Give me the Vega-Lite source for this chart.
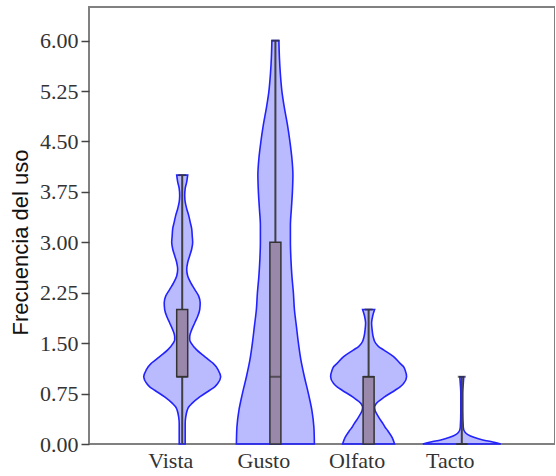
{
  "$schema": "https://vega.github.io/schema/vega-lite/v6.json",
  "width": 466,
  "height": 437,
  "autosize": {"type": "none"},
  "padding": {"left": 89, "top": 7, "right": 0, "bottom": 32},
  "config": {
    "view": {"stroke": "#808080", "strokeWidth": 2},
    "font": "Liberation Serif"
  },
  "datasets": {
    "violin": [
      {"sense": "Vista", "value": 0, "density": 0.064},
      {"sense": "Vista", "value": 0.1, "density": 0.064},
      {"sense": "Vista", "value": 0.2, "density": 0.064},
      {"sense": "Vista", "value": 0.3, "density": 0.064},
      {"sense": "Vista", "value": 0.4, "density": 0.075},
      {"sense": "Vista", "value": 0.5, "density": 0.107},
      {"sense": "Vista", "value": 0.55, "density": 0.139},
      {"sense": "Vista", "value": 0.6, "density": 0.204},
      {"sense": "Vista", "value": 0.7, "density": 0.376},
      {"sense": "Vista", "value": 0.8, "density": 0.59},
      {"sense": "Vista", "value": 0.85, "density": 0.697},
      {"sense": "Vista", "value": 0.9, "density": 0.762},
      {"sense": "Vista", "value": 1.0, "density": 0.826},
      {"sense": "Vista", "value": 1.1, "density": 0.773},
      {"sense": "Vista", "value": 1.2, "density": 0.665},
      {"sense": "Vista", "value": 1.25, "density": 0.569},
      {"sense": "Vista", "value": 1.3, "density": 0.483},
      {"sense": "Vista", "value": 1.4, "density": 0.311},
      {"sense": "Vista", "value": 1.5, "density": 0.193},
      {"sense": "Vista", "value": 1.55, "density": 0.161},
      {"sense": "Vista", "value": 1.6, "density": 0.161},
      {"sense": "Vista", "value": 1.7, "density": 0.204},
      {"sense": "Vista", "value": 1.8, "density": 0.268},
      {"sense": "Vista", "value": 1.9, "density": 0.333},
      {"sense": "Vista", "value": 2.0, "density": 0.376},
      {"sense": "Vista", "value": 2.1, "density": 0.386},
      {"sense": "Vista", "value": 2.2, "density": 0.354},
      {"sense": "Vista", "value": 2.3, "density": 0.268},
      {"sense": "Vista", "value": 2.4, "density": 0.182},
      {"sense": "Vista", "value": 2.5, "density": 0.118},
      {"sense": "Vista", "value": 2.6, "density": 0.097},
      {"sense": "Vista", "value": 2.7, "density": 0.118},
      {"sense": "Vista", "value": 2.8, "density": 0.161},
      {"sense": "Vista", "value": 2.9, "density": 0.204},
      {"sense": "Vista", "value": 3.0, "density": 0.225},
      {"sense": "Vista", "value": 3.1, "density": 0.215},
      {"sense": "Vista", "value": 3.2, "density": 0.204},
      {"sense": "Vista", "value": 3.3, "density": 0.172},
      {"sense": "Vista", "value": 3.4, "density": 0.139},
      {"sense": "Vista", "value": 3.5, "density": 0.097},
      {"sense": "Vista", "value": 3.6, "density": 0.064},
      {"sense": "Vista", "value": 3.7, "density": 0.054},
      {"sense": "Vista", "value": 3.8, "density": 0.064},
      {"sense": "Vista", "value": 3.9, "density": 0.097},
      {"sense": "Vista", "value": 4.0, "density": 0.118},

      {"sense": "Gusto", "value": 0, "density": 0.837},
      {"sense": "Gusto", "value": 0.25, "density": 0.826},
      {"sense": "Gusto", "value": 0.5, "density": 0.783},
      {"sense": "Gusto", "value": 0.75, "density": 0.708},
      {"sense": "Gusto", "value": 1.0, "density": 0.622},
      {"sense": "Gusto", "value": 1.25, "density": 0.547},
      {"sense": "Gusto", "value": 1.5, "density": 0.494},
      {"sense": "Gusto", "value": 1.75, "density": 0.451},
      {"sense": "Gusto", "value": 2.0, "density": 0.408},
      {"sense": "Gusto", "value": 2.25, "density": 0.386},
      {"sense": "Gusto", "value": 2.5, "density": 0.354},
      {"sense": "Gusto", "value": 2.75, "density": 0.333},
      {"sense": "Gusto", "value": 3.0, "density": 0.322},
      {"sense": "Gusto", "value": 3.25, "density": 0.322},
      {"sense": "Gusto", "value": 3.5, "density": 0.343},
      {"sense": "Gusto", "value": 3.75, "density": 0.365},
      {"sense": "Gusto", "value": 4.0, "density": 0.376},
      {"sense": "Gusto", "value": 4.25, "density": 0.354},
      {"sense": "Gusto", "value": 4.5, "density": 0.311},
      {"sense": "Gusto", "value": 4.75, "density": 0.258},
      {"sense": "Gusto", "value": 5.0, "density": 0.193},
      {"sense": "Gusto", "value": 5.25, "density": 0.139},
      {"sense": "Gusto", "value": 5.5, "density": 0.107},
      {"sense": "Gusto", "value": 5.75, "density": 0.086},
      {"sense": "Gusto", "value": 6.0, "density": 0.075},

      {"sense": "Olfato", "value": 0, "density": 0.558},
      {"sense": "Olfato", "value": 0.1, "density": 0.504},
      {"sense": "Olfato", "value": 0.2, "density": 0.408},
      {"sense": "Olfato", "value": 0.25, "density": 0.354},
      {"sense": "Olfato", "value": 0.3, "density": 0.311},
      {"sense": "Olfato", "value": 0.4, "density": 0.215},
      {"sense": "Olfato", "value": 0.5, "density": 0.139},
      {"sense": "Olfato", "value": 0.55, "density": 0.129},
      {"sense": "Olfato", "value": 0.6, "density": 0.161},
      {"sense": "Olfato", "value": 0.7, "density": 0.343},
      {"sense": "Olfato", "value": 0.8, "density": 0.569},
      {"sense": "Olfato", "value": 0.85, "density": 0.676},
      {"sense": "Olfato", "value": 0.9, "density": 0.751},
      {"sense": "Olfato", "value": 1.0, "density": 0.815},
      {"sense": "Olfato", "value": 1.1, "density": 0.783},
      {"sense": "Olfato", "value": 1.15, "density": 0.751},
      {"sense": "Olfato", "value": 1.2, "density": 0.676},
      {"sense": "Olfato", "value": 1.3, "density": 0.536},
      {"sense": "Olfato", "value": 1.4, "density": 0.322},
      {"sense": "Olfato", "value": 1.45, "density": 0.215},
      {"sense": "Olfato", "value": 1.5, "density": 0.15},
      {"sense": "Olfato", "value": 1.6, "density": 0.097},
      {"sense": "Olfato", "value": 1.7, "density": 0.075},
      {"sense": "Olfato", "value": 1.8, "density": 0.064},
      {"sense": "Olfato", "value": 1.9, "density": 0.086},
      {"sense": "Olfato", "value": 2.0, "density": 0.129},

      {"sense": "Tacto", "value": 0, "density": 0.837},
      {"sense": "Tacto", "value": 0.03, "density": 0.665},
      {"sense": "Tacto", "value": 0.06, "density": 0.451},
      {"sense": "Tacto", "value": 0.1, "density": 0.258},
      {"sense": "Tacto", "value": 0.14, "density": 0.129},
      {"sense": "Tacto", "value": 0.18, "density": 0.064},
      {"sense": "Tacto", "value": 0.25, "density": 0.032},
      {"sense": "Tacto", "value": 0.5, "density": 0.021},
      {"sense": "Tacto", "value": 0.75, "density": 0.021},
      {"sense": "Tacto", "value": 0.9, "density": 0.032},
      {"sense": "Tacto", "value": 1.0, "density": 0.043}
    ],
    "box": [
      {"sense": "Vista", "min": 0, "q1": 1, "median": 1, "q3": 2, "max": 4},
      {"sense": "Gusto", "min": 0, "q1": 0, "median": 1, "q3": 3, "max": 6},
      {"sense": "Olfato", "min": 0, "q1": 0, "median": 1, "q3": 1, "max": 2},
      {"sense": "Tacto", "min": 0, "q1": 0, "median": 0, "q3": 0, "max": 1}
    ]
  },
  "resolve": {"scale": {"x": "independent"}},
  "layer": [
    {
      "data": {"name": "violin"},
      "transform": [{"filter": {"field": "sense", "equal": "Vista"}}],
      "mark": {"type": "area", "orient": "horizontal", "interpolate": "monotone", "fill": "#0000ff", "fillOpacity": 0.27, "stroke": "#2222ff", "strokeWidth": 1.6},
      "encoding": {
        "y": {"field": "value", "type": "quantitative", "scale": {"domain": [0, 6.5], "nice": false, "zero": false},
          "axis": {"title": "Frecuencia del uso", "values": [0, 0.75, 1.5, 2.25, 3, 3.75, 4.5, 5.25, 6], "format": ".2f", "grid": false, "domain": false,
            "tickSize": 8, "tickColor": "#444444", "tickWidth": 1.5, "labelFont": "Liberation Serif", "labelFontSize": 22, "labelColor": "#333333", "labelPadding": 3,
            "titleFont": "Liberation Sans", "titleFontSize": 22, "titleFontWeight": "normal", "titleColor": "#111111", "titleX": -62, "titleY": 235, "titleBaseline": "alphabetic"}},
        "x": {"field": "density", "type": "quantitative", "stack": "center", "scale": {"domain": [-0.587, 4.413], "nice": false, "zero": false}, "axis": null}
      }
    },
    {
      "data": {"name": "violin"},
      "transform": [{"filter": {"field": "sense", "equal": "Gusto"}}],
      "mark": {"type": "area", "orient": "horizontal", "interpolate": "monotone", "fill": "#0000ff", "fillOpacity": 0.27, "stroke": "#2222ff", "strokeWidth": 1.6},
      "encoding": {
        "y": {"field": "value", "type": "quantitative"},
        "x": {"field": "density", "type": "quantitative", "stack": "center", "scale": {"domain": [-1.5815, 3.4185], "nice": false, "zero": false}, "axis": null}
      }
    },
    {
      "data": {"name": "violin"},
      "transform": [{"filter": {"field": "sense", "equal": "Olfato"}}],
      "mark": {"type": "area", "orient": "horizontal", "interpolate": "monotone", "fill": "#0000ff", "fillOpacity": 0.27, "stroke": "#2222ff", "strokeWidth": 1.6},
      "encoding": {
        "y": {"field": "value", "type": "quantitative"},
        "x": {"field": "density", "type": "quantitative", "stack": "center", "scale": {"domain": [-2.5925, 2.4075], "nice": false, "zero": false}, "axis": null}
      }
    },
    {
      "data": {"name": "violin"},
      "transform": [{"filter": {"field": "sense", "equal": "Tacto"}}],
      "mark": {"type": "area", "orient": "horizontal", "interpolate": "monotone", "fill": "#0000ff", "fillOpacity": 0.27, "stroke": "#2222ff", "strokeWidth": 1.6},
      "encoding": {
        "y": {"field": "value", "type": "quantitative"},
        "x": {"field": "density", "type": "quantitative", "stack": "center", "scale": {"domain": [-3.5815, 1.4185], "nice": false, "zero": false}, "axis": null}
      }
    },
    {
      "data": {"name": "box"},
      "encoding": {
        "x": {"field": "sense", "type": "nominal", "sort": ["Vista", "Gusto", "Olfato", "Tacto"],
          "scale": {"type": "point", "domain": ["Vista", "Gusto", "Olfato", "Tacto"], "padding": 1},
          "axis": {"title": null, "ticks": false, "tickSize": 0, "domain": false, "grid": false, "labelAngle": 0, "labelFont": "Liberation Serif", "labelFontSize": 22,
            "labelColor": "#333333", "labelPadding": 23, "labelBaseline": "alphabetic", "labelOffset": -12}}
      },
      "layer": [
        {
          "mark": {"type": "rule", "color": "#404040", "strokeWidth": 2},
          "encoding": {"y": {"field": "min", "type": "quantitative"}, "y2": {"field": "max"}}
        },
        {
          "mark": {"type": "bar", "size": 11, "fill": "#9a88ab", "stroke": "#333333", "strokeWidth": 1.5},
          "encoding": {"y": {"field": "q1", "type": "quantitative"}, "y2": {"field": "q3"}}
        },
        {
          "mark": {"type": "tick", "size": 11, "thickness": 2, "color": "#333333"},
          "encoding": {"y": {"field": "median", "type": "quantitative"}}
        },
        {
          "mark": {"type": "tick", "size": 8, "thickness": 2, "color": "#333333"},
          "encoding": {"y": {"field": "max", "type": "quantitative"}}
        }
      ]
    }
  ]
}
